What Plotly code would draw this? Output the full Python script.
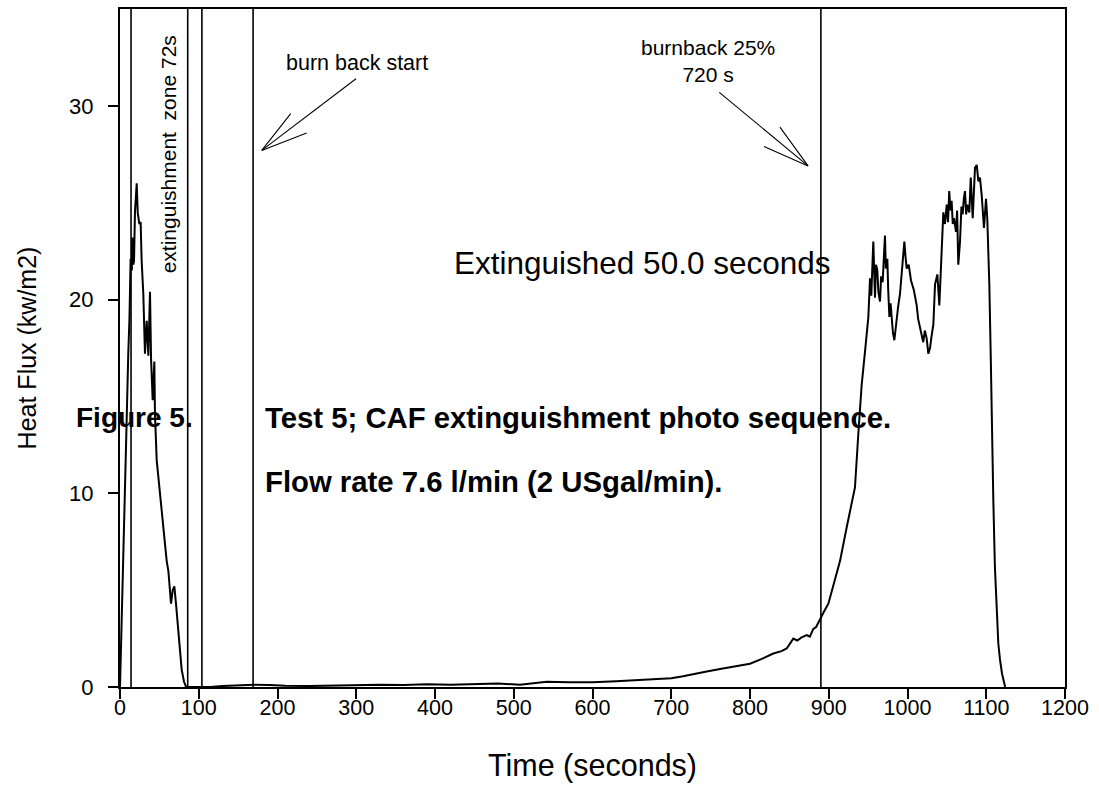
import plotly.graph_objects as go

# ---- data ----
time_s = [0, 2, 4, 6, 8, 10.5, 12, 13.5, 15, 15.7, 17, 17.8, 19, 21.2, 22.5, 24.6, 26.2, 27.5,
          29.6, 31.7, 33.9, 36, 38.1, 39.4, 41.5, 43.6, 44.4, 46.6, 50, 52.9, 55, 59.3, 61.4,
          64.8, 66.9, 69, 71.1, 74, 78.3, 81.3, 84, 100, 115, 130, 150, 170, 190, 210, 240, 270,
          300, 330, 360, 390, 420, 450, 480, 508, 541.8, 570, 600, 630, 656, 680, 700, 715, 728,
          745, 762, 780, 800, 815, 829.6, 840, 846.6, 855, 860, 865, 872, 876, 880.4, 884, 888.9,
          894, 899.5, 905.8, 914.3, 922.8, 929.1, 933.3, 937.6, 941.8, 946, 948, 950.3, 952.4,
          954, 956.6, 957.5, 958.7, 960, 961.7, 963, 965.1, 966.5, 968.5, 970, 971.4, 972.5,
          974.4, 975.5, 977, 978.5, 980, 981.5, 983.3, 985, 986.3, 988, 990.5, 993, 996, 997.5,
          999, 1001.5, 1004.4, 1008, 1011.7, 1013.5, 1015.9, 1018, 1020, 1022, 1024.3, 1026.5,
          1028.6, 1030.5, 1032.8, 1035, 1037.9, 1040.4, 1043.4, 1045.5, 1047.6, 1049.8, 1051.5,
          1053, 1054.5, 1056, 1057.5, 1059, 1061.6, 1063, 1064.5, 1066.7, 1068.5, 1070, 1071.5,
          1073, 1074.5, 1076, 1078.5, 1080.3, 1082.8, 1084, 1085.7, 1087.9, 1090, 1092, 1094.2,
          1097.1, 1099.7, 1101.3, 1103.9, 1105.6, 1107, 1109, 1111, 1113.3, 1115.3, 1117.5,
          1120, 1124]
heat_flux = [0, 3, 6.5, 9.5, 13, 17.2, 19, 22.1, 21.5, 23.2, 21.8, 22, 24.5, 26.0, 24.5, 23.9,
             24.0, 22, 20.3, 17.2, 18.9, 17.1, 20.4, 17, 14.8, 16.8, 14.1, 11.7, 10.3, 9.3, 8.2,
             6.5, 6.0, 4.3, 5.0, 5.2, 4.3, 2.8, 0.9, 0.27, 0, 0, 0, 0.05, 0.08, 0.12, 0.1, 0.06,
             0.05, 0.08, 0.1, 0.12, 0.1, 0.14, 0.12, 0.15, 0.18, 0.12, 0.27, 0.25, 0.24, 0.3,
             0.36, 0.4, 0.45, 0.55, 0.67, 0.8, 0.93, 1.05, 1.2, 1.45, 1.73, 1.85, 1.99, 2.5, 2.4,
             2.55, 2.68, 2.6, 3.0, 3.1, 3.53, 3.9, 4.3, 5.3, 6.5, 8.25, 9.45, 10.3, 13.1, 15.6,
             17.3, 18.2, 19.1, 21.1, 20.2, 23.0, 21.0, 20.1, 21.8, 21.5, 20.4, 19.9, 21.2, 20.9,
             22.2, 23.3, 21.6, 22.1, 20.5, 19.1, 19.8, 18.7, 18.3, 17.9, 18.6, 18.9, 19.6, 20.3,
             21.6, 23.0, 22.2, 21.6, 21.8, 21.0, 20.5, 19.7, 19.0, 18.5, 18.2, 17.8, 18.4, 18.0,
             17.2, 17.5, 18.1, 18.7, 20.8, 21.3, 19.7, 22.5, 24.5, 23.9, 24.9, 24.0, 25.6, 24.6,
             25.1, 23.9, 24.2, 23.5, 24.6, 21.8, 23.0, 24.8, 24.4, 25.2, 25.6, 24.4, 24.9, 24.5,
             26.3, 24.2, 25.5, 26.8, 26.95, 26.1, 26.3, 25.4, 23.7, 25.2, 24.2, 20.8, 17.3, 13.1,
             9.6, 6.2, 3.6, 2.25, 1.4, 0.7, 0]

event_times = [14, 86, 104, 169, 890]

x_ticks = [0, 100, 200, 300, 400, 500, 600, 700, 800, 900, 1000, 1100, 1200]
y_ticks = [0, 10, 20, 30]

# arrows: shaft start, tip, barb ends (data coordinates)
arrow1_shaft = ([299.7, 180.0], [31.4, 27.7])
arrow1_barbs = ([216.8, 180.0, 237.0], [29.6, 27.7, 28.6])
arrow2_shaft = ([761.0, 873.7], [30.7, 26.9])
arrow2_barbs = ([838.0, 873.7, 817.8], [28.9, 26.9, 27.9])

FONT = "Arial, 'Liberation Sans', sans-serif"

fig = go.Figure()

# event lines
for t in event_times:
    fig.add_shape(type="line", xref="x", yref="paper", x0=t, x1=t, y0=0, y1=1,
                  line=dict(color="black", width=1.6), layer="above")

fig.add_trace(go.Scatter(x=time_s, y=heat_flux, mode="lines",
                         line=dict(color="black", width=2), showlegend=False, hoverinfo="skip"))

for xs, ys in [arrow1_shaft, arrow1_barbs, arrow2_shaft, arrow2_barbs]:
    fig.add_trace(go.Scatter(x=xs, y=ys, mode="lines", line=dict(color="black", width=1.1),
                             showlegend=False, hoverinfo="skip"))

ann = []
ann.append(dict(x=61.0, y=27.5, xref="x", yref="y", text="extinguishment  zone 72s", textangle=-90,
                showarrow=False, font=dict(size=21, family=FONT, color="black")))
ann.append(dict(x=301, y=32.2, xref="x", yref="y", text="burn back start",
                showarrow=False, font=dict(size=21.5, family=FONT, color="black")))
ann.append(dict(x=746.7, y=32.3, xref="x", yref="y", text="burnback 25%<br>720 s",
                showarrow=False, font=dict(size=21, family=FONT, color="black")))
ann.append(dict(x=663, y=21.9, xref="x", yref="y", text="Extinguished 50.0 seconds",
                showarrow=False, font=dict(size=31.5, family=FONT, color="black")))
ann.append(dict(x=-0.049, y=(687 - 417) / 680, xref="paper", yref="paper", text="<b>Figure 5.</b>",
                xanchor="left", showarrow=False, font=dict(size=28, family=FONT, color="black")))
ann.append(dict(x=181.6, y=13.9, xref="x", yref="y",
                text="<b>Test 5; CAF extinguishment photo sequence.</b>", xanchor="left",
                showarrow=False, font=dict(size=29.3, family=FONT, color="black")))
ann.append(dict(x=181.6, y=10.6, xref="x", yref="y",
                text="<b>Flow rate 7.6 l/min (2 USgal/min).</b>", xanchor="left",
                showarrow=False, font=dict(size=29.3, family=FONT, color="black")))

fig.update_layout(
    width=1099, height=802,
    margin=dict(l=120, r=34, t=7, b=115),
    paper_bgcolor="white", plot_bgcolor="white",
    font=dict(family=FONT, color="black"),
    annotations=ann,
    xaxis=dict(range=[0, 1200], tickvals=x_ticks, ticks="outside", ticklen=10, tickwidth=1.5,
               tickcolor="black", showline=True, linecolor="black", linewidth=2, mirror=True,
               showgrid=False, zeroline=False, tickfont=dict(size=21.5, family=FONT),
               ticklabelstandoff=-10,
               title=dict(text="Time (seconds)", font=dict(size=30.5, family=FONT), standoff=36)),
    yaxis=dict(range=[0, 35], tickvals=y_ticks, ticks="outside", ticklen=10, tickwidth=1.5,
               tickcolor="black", showline=True, linecolor="black", linewidth=2, mirror=True,
               showgrid=False, zeroline=False, tickfont=dict(size=22, family=FONT),
               ticklabelstandoff=10,
               title=dict(text="Heat Flux (kw/m2)", font=dict(size=25, family=FONT), standoff=25)),
)

fig.write_html("out.html")
